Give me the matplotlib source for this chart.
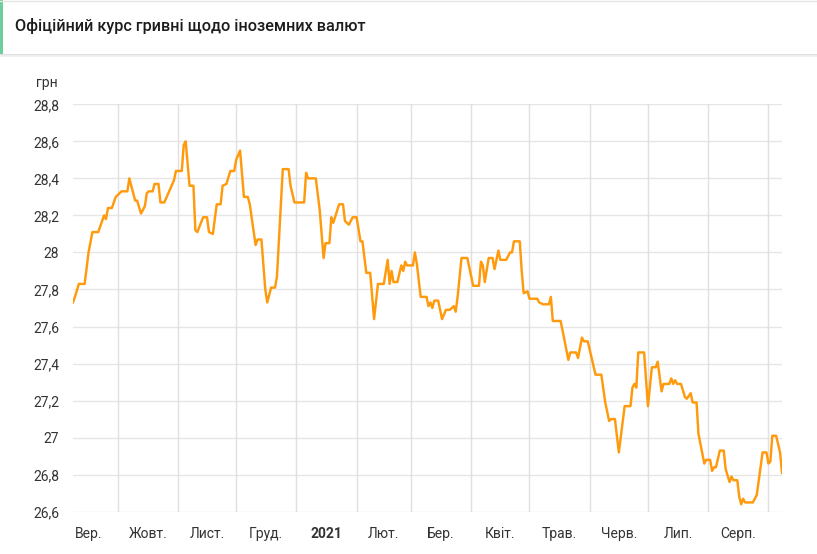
import matplotlib
matplotlib.use("Agg")
import matplotlib.pyplot as plt
import matplotlib.dates as mdates
from matplotlib.lines import Line2D
from matplotlib.patches import Rectangle
import pandas as pd
import numpy as np

plt.rcParams['font.family'] = ['Roboto', 'DejaVu Sans']

title = "Офіційний курс гривні щодо іноземних валют"
unit_label = "грн"

dates = [
    "2020-09-08", "2020-09-09", "2020-09-11", "2020-09-14", "2020-09-16", "2020-09-18",
    "2020-09-21", "2020-09-24", "2020-09-25", "2020-09-26", "2020-09-28", "2020-09-30",
    "2020-10-03", "2020-10-06", "2020-10-07", "2020-10-10", "2020-10-11", "2020-10-13",
    "2020-10-15", "2020-10-16", "2020-10-17", "2020-10-19", "2020-10-20", "2020-10-22",
    "2020-10-23", "2020-10-25", "2020-10-30", "2020-10-31", "2020-11-03", "2020-11-04",
    "2020-11-05", "2020-11-07", "2020-11-09", "2020-11-10", "2020-11-11", "2020-11-14",
    "2020-11-16", "2020-11-17", "2020-11-19", "2020-11-21", "2020-11-23", "2020-11-24",
    "2020-11-26", "2020-11-28", "2020-11-30", "2020-12-01", "2020-12-03", "2020-12-05",
    "2020-12-07", "2020-12-08", "2020-12-11", "2020-12-12", "2020-12-14", "2020-12-16",
    "2020-12-17", "2020-12-19", "2020-12-21", "2020-12-22", "2020-12-25", "2020-12-28",
    "2020-12-29", "2020-12-31", "2021-01-05", "2021-01-06", "2021-01-07", "2021-01-11",
    "2021-01-13", "2021-01-15", "2021-01-16", "2021-01-18", "2021-01-19", "2021-01-20",
    "2021-01-23", "2021-01-25", "2021-01-26", "2021-01-28", "2021-01-30", "2021-02-01",
    "2021-02-03", "2021-02-04", "2021-02-06", "2021-02-08", "2021-02-10", "2021-02-12",
    "2021-02-15", "2021-02-17", "2021-02-18", "2021-02-19", "2021-02-20", "2021-02-22",
    "2021-02-24", "2021-02-25", "2021-02-26", "2021-02-27", "2021-03-02", "2021-03-03",
    "2021-03-04", "2021-03-06", "2021-03-09", "2021-03-10", "2021-03-11", "2021-03-12",
    "2021-03-13", "2021-03-15", "2021-03-17", "2021-03-19", "2021-03-21", "2021-03-23",
    "2021-03-24", "2021-03-25", "2021-03-27", "2021-03-30", "2021-04-02", "2021-04-05",
    "2021-04-06", "2021-04-07", "2021-04-08", "2021-04-10", "2021-04-12", "2021-04-13",
    "2021-04-15", "2021-04-16", "2021-04-19", "2021-04-21", "2021-04-22", "2021-04-23",
    "2021-04-26", "2021-04-27", "2021-04-28", "2021-04-30", "2021-05-01", "2021-05-05",
    "2021-05-06", "2021-05-08", "2021-05-11", "2021-05-12", "2021-05-13", "2021-05-17",
    "2021-05-18", "2021-05-21", "2021-05-22", "2021-05-25", "2021-05-26", "2021-05-28",
    "2021-05-29", "2021-05-31", "2021-06-02", "2021-06-04", "2021-06-07", "2021-06-09",
    "2021-06-11", "2021-06-12", "2021-06-14", "2021-06-16", "2021-06-19", "2021-06-22",
    "2021-06-23", "2021-06-24", "2021-06-25", "2021-06-26", "2021-06-29", "2021-07-01",
    "2021-07-03", "2021-07-05", "2021-07-06", "2021-07-08", "2021-07-09", "2021-07-12",
    "2021-07-13", "2021-07-14", "2021-07-15", "2021-07-16", "2021-07-18", "2021-07-20",
    "2021-07-21", "2021-07-23", "2021-07-24", "2021-07-26", "2021-07-27", "2021-07-30",
    "2021-07-31", "2021-08-02", "2021-08-03", "2021-08-04", "2021-08-05", "2021-08-07",
    "2021-08-09", "2021-08-10", "2021-08-12", "2021-08-13", "2021-08-14", "2021-08-16",
    "2021-08-17", "2021-08-18", "2021-08-19", "2021-08-20", "2021-08-24", "2021-08-26",
    "2021-08-29", "2021-08-31", "2021-09-01", "2021-09-02", "2021-09-03", "2021-09-05",
    "2021-09-07", "2021-09-08",
]

rates = [
    27.73, 27.76, 27.83, 27.83, 28.00, 28.11,
    28.11, 28.20, 28.18, 28.24, 28.24, 28.30,
    28.33, 28.33, 28.40, 28.28, 28.28, 28.21,
    28.25, 28.32, 28.33, 28.33, 28.37, 28.37,
    28.27, 28.27, 28.39, 28.44, 28.44, 28.58,
    28.60, 28.36, 28.36, 28.12, 28.11, 28.19,
    28.19, 28.11, 28.10, 28.26, 28.26, 28.36,
    28.37, 28.44, 28.44, 28.50, 28.55, 28.30,
    28.30, 28.26, 28.04, 28.07, 28.07, 27.80,
    27.73, 27.81, 27.81, 27.87, 28.45, 28.45,
    28.36, 28.27, 28.27, 28.43, 28.40, 28.40,
    28.23, 27.97, 28.05, 28.05, 28.19, 28.16,
    28.26, 28.26, 28.17, 28.15, 28.19, 28.19,
    28.06, 28.06, 27.89, 27.89, 27.64, 27.83,
    27.83, 27.96, 27.83, 27.90, 27.84, 27.84,
    27.93, 27.90, 27.95, 27.93, 27.93, 28.00,
    27.94, 27.76, 27.76, 27.71, 27.73, 27.70,
    27.74, 27.74, 27.64, 27.69, 27.69, 27.71,
    27.68, 27.76, 27.97, 27.97, 27.82, 27.82,
    27.95, 27.93, 27.84, 27.97, 27.97, 27.91,
    28.01, 27.96, 27.96, 28.00, 28.00, 28.06,
    28.06, 27.90, 27.78, 27.79, 27.75, 27.75,
    27.73, 27.72, 27.72, 27.76, 27.63, 27.63,
    27.58, 27.42, 27.46, 27.46, 27.43, 27.54,
    27.52, 27.52, 27.43, 27.34, 27.34, 27.19,
    27.09, 27.10, 27.10, 26.92, 27.17, 27.17,
    27.27, 27.29, 27.27, 27.46, 27.46, 27.17,
    27.38, 27.38, 27.41, 27.25, 27.29, 27.29,
    27.32, 27.29, 27.31, 27.29, 27.29, 27.22,
    27.21, 27.24, 27.19, 27.19, 27.02, 26.86,
    26.88, 26.88, 26.82, 26.84, 26.84, 26.93,
    26.93, 26.83, 26.76, 26.79, 26.77, 26.77,
    26.68, 26.64, 26.67, 26.65, 26.65, 26.69,
    26.92, 26.92, 26.86, 26.87, 27.01, 27.01,
    26.92, 26.81,
]

month_starts = ["2020-09-01", "2020-10-01", "2020-11-01", "2020-12-01", "2021-01-01",
                "2021-02-01", "2021-03-01", "2021-04-01", "2021-05-01", "2021-06-01",
                "2021-07-01", "2021-08-01", "2021-09-01", "2021-10-01"]
month_labels = ["Вер.", "Жовт.", "Лист.", "Груд.", "2021", "Лют.", "Бер.", "Квіт.",
                "Трав.", "Черв.", "Лип.", "Серп."]
y_ticks = [26.6, 26.8, 27.0, 27.2, 27.4, 27.6, 27.8, 28.0, 28.2, 28.4, 28.6, 28.8]

W, H = 817, 554
fig = plt.figure(figsize=(W / 100, H / 100), dpi=100)
fig.patch.set_facecolor('white')

# header
fig.add_artist(Line2D([0, 1], [1 - 0.5 / H, 1 - 0.5 / H], transform=fig.transFigure,
                      color='#e4e4e4', lw=1.0))
fig.add_artist(Line2D([0, 1], [1 - 54.5 / H, 1 - 54.5 / H], transform=fig.transFigure,
                      color='#dcdcdc', lw=1.2))
fig.add_artist(Line2D([0, 1], [1 - 56 / H, 1 - 56 / H], transform=fig.transFigure,
                      color='#f0f0f0', lw=1.2))
fig.add_artist(Rectangle((0, 1 - 54 / H), 2.5 / W, 54 / H, transform=fig.transFigure,
                         facecolor='#6ccf9a', edgecolor='none'))
fig.text(15 / W, 1 - 26.5 / H, title, fontsize=11.7, fontweight='medium',
         color='#1c1c1c', ha='left', va='center')

left, right, top, bottom = 73, 782, 104.3, 511.7
ax = fig.add_axes([left / W, 1 - bottom / H, (right - left) / W, (bottom - top) / H])

x = pd.to_datetime(dates)
ax.plot(x, rates, color='#ff9a0d', lw=1.75, solid_joinstyle='round', zorder=3)


def fmt(v):
    s = f"{v:.1f}"
    if s.endswith(".0"):
        s = s[:-2]
    return s.replace(".", ",")


ax.set_yticks(y_ticks)
ax.set_yticklabels([fmt(v) for v in y_ticks])

ms = mdates.date2num(pd.to_datetime(month_starts))
ax.set_xticks(ms, minor=False)
ax.set_xticklabels([])
mids = (ms[:-1] + ms[1:]) / 2
ax.set_xticks(mids[:len(month_labels)], minor=True)
ax.set_xticklabels(month_labels, minor=True)
for lbl in ax.get_xticklabels(minor=True):
    if lbl.get_text() == "2021":
        lbl.set_fontweight('bold')

ax.tick_params(axis='both', which='both', length=0, labelsize=10, labelcolor='#333333')
ax.tick_params(axis='x', which='minor', pad=11)
ax.tick_params(axis='y', pad=10)

ax.grid(False)
for v in y_ticks:
    ax.axhline(v, color='#e6e6e6', lw=1.0, zorder=1)
for m in ms:
    ax.axvline(m, color='#e0e0e0', lw=1.0, zorder=1)

for s in ax.spines.values():
    s.set_visible(False)

ax.set_xlim(mdates.date2num(x[0]), mdates.date2num(x[-1]))
ax.set_ylim(26.6, 28.8)

fig.text(36 / W, 1 - 82.7 / H, unit_label, fontsize=10, color='#333333',
         ha='left', va='center')

fig.savefig("out.png", dpi=100, facecolor='white')
